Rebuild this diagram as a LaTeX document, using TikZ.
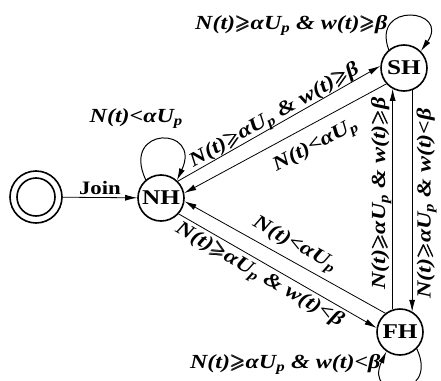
\documentclass[tikz,border=0pt]{standalone}
\usepackage{amsmath}
\usepackage{amssymb}
\usepackage{fontspec}
\setmainfont{Liberation Serif}[FakeStretch=1.2]
\usetikzlibrary{arrows.meta}
\newcommand\gsl{\ensuremath{\pmb{\geqslant}}}
\newcommand\Ngeq{N(t)\gsl αU\textsubscript{p}}
\newcommand\Nlt{N(t)<αU\textsubscript{p}}
\newcommand\wgeq{w(t)\gsl β}
\newcommand\wlt{w(t)<β}
\begin{document}
\begin{tikzpicture}[x=1pt,y=-1pt,
  st/.style={circle,draw,line width=1.6pt,minimum size=46pt,inner sep=0pt,
    font=\fontsize{21}{21}\selectfont\bfseries},
  lbl/.style={font=\fontsize{20}{20}\selectfont\bfseries\itshape,inner sep=1pt},
  jl/.style={font=\fontsize{19}{19}\selectfont\bfseries,inner sep=2pt},
  tipA/.tip={Latex[length=12pt,width=6pt]},
  arr/.style={line width=0.8pt,-tipA},
  rarr/.style={line width=0.8pt,tipA-},
  larr/.style={line width=1pt,-tipA}]
\useasboundingbox (0,0) rectangle (441,380);
\clip (0,0) rectangle (441,380);
\node[st] (NH) at (161,198) {NH};
\node[st] (SH) at (404,68) {SH};
\node[st] (FH) at (400,332) {FH};
\node[circle,draw,line width=1.6pt,minimum size=52pt,inner sep=0pt] (S) at (36,197) {};
\draw[line width=1.6pt] (S.center) circle[radius=19pt];
% start
\draw[arr] (S) -- node[jl,above] {Join} (NH);
% NH <-> SH
\draw[arr] (NH.45) -- node[lbl,sloped,above=-3pt,pos=0.5] {\Ngeq{} \& \wgeq} (SH.175);
\draw[rarr] (NH.12) -- node[lbl,sloped,below=10pt,pos=0.6] {\Nlt} (SH.222);
% NH <-> FH
\draw[rarr] (NH.-8) -- node[lbl,sloped,above=4pt,pos=0.51] {\Nlt} (FH.128);
\draw[arr] (NH.-42) -- node[lbl,sloped,below=2pt,pos=0.44] {\Ngeq{} \& \wlt} (FH.170);
% SH <-> FH
\draw[arr] (FH.108) -- node[lbl,pos=0.525,rotate=90,anchor=south] {\Ngeq{} \& \wgeq} (FH.108 |- SH.241);
\draw[arr] (SH.290) -- node[lbl,pos=0.51,rotate=90,anchor=north,inner ysep=4pt] {\Ngeq{} \& \wlt} (SH.290 |- FH.58);
% loops
\draw[larr] (NH.130) .. controls +(115:60pt) and +(65:60pt) .. (NH.48)
  node[lbl,pos=0.5,above=9pt,xshift=-25pt] {\Nlt};
\draw[larr] (SH.130) .. controls +(110:52pt) and +(55:52pt) .. (SH.45)
  node[lbl,pos=0.22,anchor=east] {\Ngeq{} \& \wgeq};
\draw[larr] (FH.-45) .. controls +(-65:55pt) and +(-115:55pt) .. (FH.235)
  node[lbl,pos=0.85,anchor=east,yshift=6pt] {\Ngeq{} \& \wlt};
\end{tikzpicture}
\end{document}
